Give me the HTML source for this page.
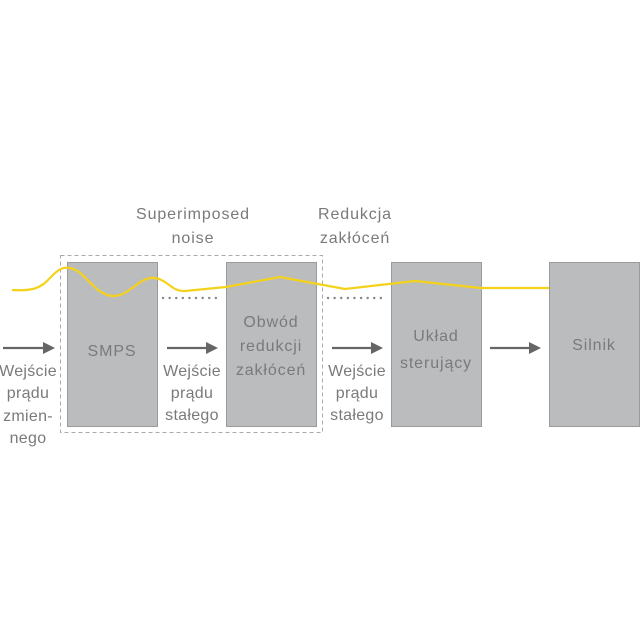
<!DOCTYPE html>
<html><head><meta charset="utf-8"><style>
html,body{margin:0;padding:0;background:#fff;}
svg{display:block;}
text{font-family:"Liberation Sans","DejaVu Sans",sans-serif;fill:#7a7a7a;font-size:16px;letter-spacing:0.9px;text-anchor:middle;}
text.s{letter-spacing:0.3px;}
</style></head><body>
<svg width="644" height="644" viewBox="0 0 644 644" xmlns="http://www.w3.org/2000/svg">
<rect x="60.5" y="255.5" width="262" height="177" fill="none" stroke="#aaa" stroke-dasharray="4,3"/>
<g fill="#bbbcbe" stroke="#9a9a9a" stroke-width="1">
<rect x="67.5" y="262.5" width="90" height="164"/>
<rect x="226.5" y="262.5" width="90" height="164"/>
<rect x="391.5" y="262.5" width="90" height="164"/>
<rect x="549.5" y="262.5" width="90" height="164"/>
</g>
<path d="M12,290 C30,291 38,289 46,282 C55,273 60,266 70,268 C85,270 95,297 115,296 C130,295 140,276 155,278 C168,280 172,292 185,291 L226,287 L280,277 L345,289 L415,281 L481,288 L549,288" fill="none" stroke="#f5d21a" stroke-width="2.2"/>
<g stroke="#888" stroke-width="2.4" stroke-dasharray="0.1,6.5" stroke-linecap="round">
<line x1="163" y1="298" x2="222" y2="298"/>
<line x1="328" y1="298" x2="387" y2="298"/>
</g>
<g stroke="#666" stroke-width="2.2" fill="#666">
<line x1="3" y1="348" x2="44" y2="348"/><polygon points="43,342 55,348 43,354" stroke="none"/>
<line x1="167" y1="348" x2="207" y2="348"/><polygon points="206,342 218,348 206,354" stroke="none"/>
<line x1="332" y1="348" x2="372" y2="348"/><polygon points="371,342 383,348 371,354" stroke="none"/>
<line x1="490" y1="348" x2="530" y2="348"/><polygon points="529,342 541,348 529,354" stroke="none"/>
</g>
<text x="193" y="219">Superimposed</text>
<text x="193" y="243">noise</text>
<text x="355" y="219">Redukcja</text>
<text x="355" y="243">zakłóceń</text>
<text x="112" y="356" font-size="17">SMPS</text>
<text x="271" y="327">Obwód</text>
<text x="271" y="351">redukcji</text>
<text x="271" y="375">zakłóceń</text>
<text x="436" y="341">Układ</text>
<text x="436" y="368">sterujący</text>
<text x="594" y="350" font-size="17">Silnik</text>
<text class="s" x="28" y="376">Wejście</text>
<text class="s" x="28" y="398">prądu</text>
<text class="s" x="28" y="421">zmien-</text>
<text class="s" x="28" y="443">nego</text>
<text class="s" x="192" y="376">Wejście</text>
<text class="s" x="192" y="398">prądu</text>
<text class="s" x="192" y="420">stałego</text>
<text class="s" x="357" y="376">Wejście</text>
<text class="s" x="357" y="398">prądu</text>
<text class="s" x="357" y="420">stałego</text>
</svg>
</body></html>
